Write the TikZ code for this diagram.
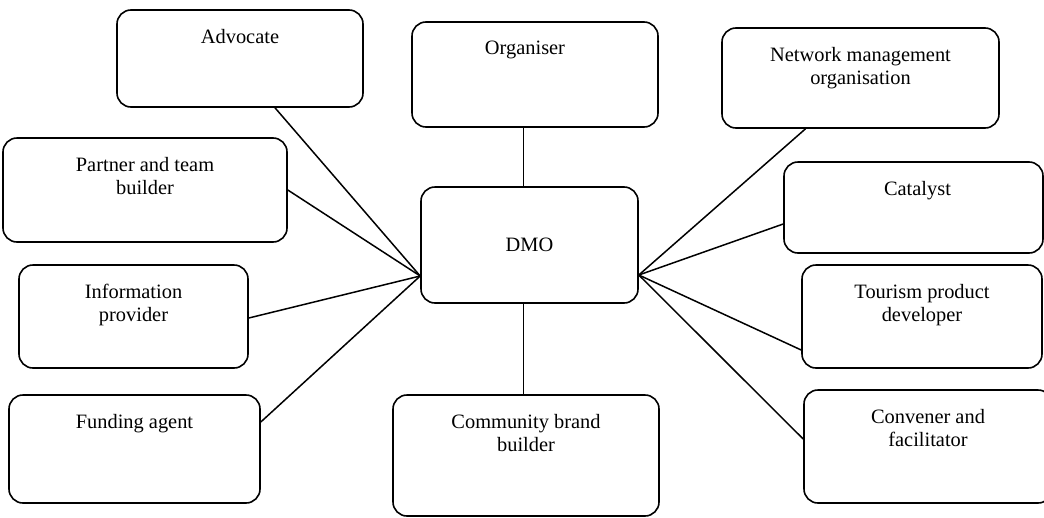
\documentclass[tikz,border=0pt]{standalone}
\usepackage{fontspec}
\setmainfont{Liberation Serif}
\usetikzlibrary{positioning}

\tikzset{
  role/.style={draw, line width=1.6pt, rounded corners=14pt, inner sep=0pt},
  roletext/.style={inner sep=0pt, align=center, font=\fontsize{20.4}{23}\selectfont},
  link/.style={line width=1.5pt}
}

\begin{document}
\begin{tikzpicture}[x=1pt, y=-1pt]
  \useasboundingbox (0,0) rectangle (1044,517);

  % DMO in the middle
  \node[role, minimum width=217pt, minimum height=116pt, font=\fontsize{20.4}{23}\selectfont] (dmo) at (529.5,245) {DMO};

  % Top row
  \node[role, minimum width=246pt, minimum height=97pt] (adv) at (240,58.5) {};
  \node[role, minimum width=246pt, minimum height=105pt] (org) at (535,74.5) {};
  \node[role, minimum width=277pt, minimum height=100pt] (net) at (860.5,78) {};

  % Left side
  \node[role, minimum width=284pt, minimum height=104pt] (partner) at (145,190) {};
  \node[role, minimum width=229pt, minimum height=103pt] (info) at (133.5,316.5) {};
  \node[role, minimum width=251pt, minimum height=108pt] (fund) at (134.5,449) {};

  % Right side
  \node[role, minimum width=259pt, minimum height=91pt] (cat) at (913.5,207.5) {};
  \node[role, minimum width=240pt, minimum height=103pt] (tour) at (922,316.5) {};
  \node[role, minimum width=248pt, minimum height=113pt] (conv) at (928,446.5) {};

  % Bottom
  \node[role, minimum width=266pt, minimum height=121pt] (com) at (526,455.5) {};

  % Labels near the top of each box
  \node[roletext, below=20pt of adv.north] (advText) {Advocate};
  \node[roletext, below=20pt of org.north, xshift=-10pt] (orgText) {Organiser};
  \node[roletext, below=20pt of net.north] (netText) {Network management\\organisation};
  \node[roletext, below=20pt of partner.north] (partnerText) {Partner and team\\builder};
  \node[roletext, below=20pt of info.north] (infoText) {Information\\provider};
  \node[roletext, below=20pt of fund.north] (fundText) {Funding agent};
  \node[roletext, below=20pt of cat.north, xshift=4pt] (catText) {Catalyst};
  \node[roletext, below=20pt of tour.north] (tourText) {Tourism product\\developer};
  \node[roletext, below=20pt of conv.north] (convText) {Convener and\\facilitator};
  \node[roletext, below=20pt of com.north] (comText) {Community brand\\builder};

  % Connectors
  \coordinate (dmoL) at ([yshift=-31pt]dmo.west);
  \coordinate (dmoR) at ([yshift=-30pt]dmo.east);
  \draw[link] ([xshift=-6pt]dmo.north) -- ([xshift=-6pt]dmo.north |- org.south);
  \draw[link] ([xshift=-6pt]dmo.south) -- ([xshift=-6pt]dmo.south |- com.north);

  \draw[link] ([xshift=35pt]adv.south) -- (dmoL);
  \draw[link] (partner.east) -- (dmoL);
  \draw[link] ([yshift=-1.5pt]info.east) -- (dmoL);
  \draw[link] ([yshift=27pt]fund.east) -- (dmoL);

  \draw[link] ([xshift=-55pt]net.south) -- (dmoR);
  \draw[link] ([yshift=-16.5pt]cat.west) -- (dmoR);
  \draw[link] ([yshift=-33.5pt]tour.west) -- (dmoR);
  \draw[link] ([yshift=7.5pt]conv.west) -- (dmoR);
\end{tikzpicture}
\end{document}
